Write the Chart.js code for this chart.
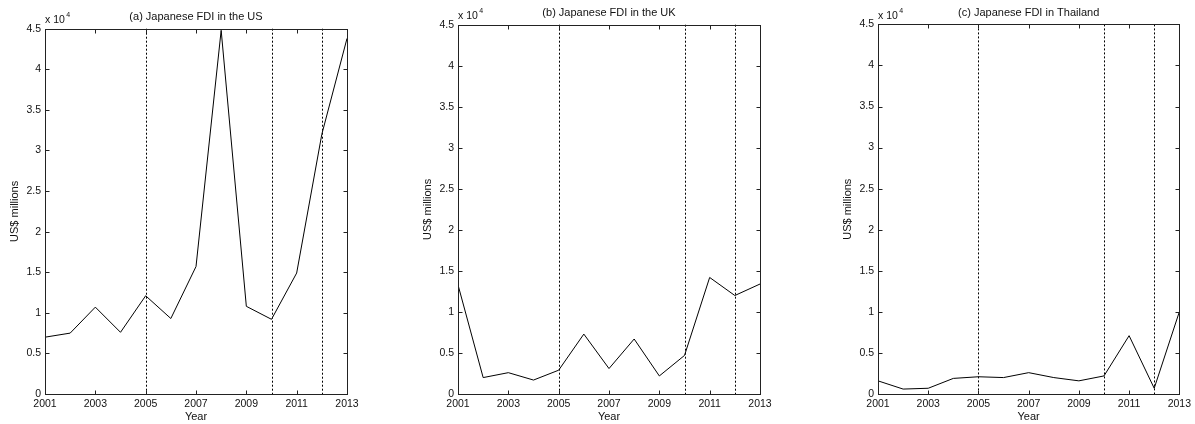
<!DOCTYPE html>
<html>
<head>
<meta charset="utf-8">
<script src="https://cdn.jsdelivr.net/npm/chart.js@4.4.1/dist/chart.umd.min.js"></script>
<style>
  body { margin: 0; background: #fff; width: 1195px; height: 424px; position: relative; overflow: hidden; }
  canvas { position: absolute; top: 0; }
</style>
</head>
<body>
<canvas id="fdiUS" width="400" height="424" style="left:0"></canvas>
<canvas id="fdiUK" width="400" height="424" style="left:400px"></canvas>
<canvas id="fdiTH" width="395" height="424" style="left:800px"></canvas>
<script>
// Japanese outward FDI, US$ millions
const years = [2001, 2002, 2003, 2004, 2005, 2006, 2007, 2008, 2009, 2010, 2011, 2012, 2013];
const fdiUS = [7000, 7500, 10700, 7600, 12100, 9300, 15700, 44800, 10800, 9200, 14900, 32000, 43800];
const fdiUK = [13300, 2000, 2600, 1700, 2900, 7300, 3100, 6700, 2200, 4700, 14200, 12000, 13400];
const fdiThailand = [1600, 600, 700, 1900, 2100, 2000, 2600, 2000, 1600, 2200, 7100, 700, 10000];

const yearTicks = [2001, 2003, 2005, 2007, 2009, 2011, 2013];
const breakYears = [2005, 2010, 2012];
const yExponent = 4;

const FONT = "'Liberation Sans', Arial, sans-serif";
const INK = '#111';

// MATLAB-like axes: closed frame, inward ticks, dashed break years, exponent label
const matlabAxes = {
  id: 'matlabAxes',
  beforeDatasetsDraw(chart) {
    const { ctx, chartArea: a, scales: { x } } = chart;
    ctx.save();
    ctx.strokeStyle = '#000';
    ctx.lineWidth = 1;
    ctx.setLineDash([2, 2]);
    breakYears.forEach(yr => {
      const px = Math.round(x.getPixelForValue(yr)) + 0.5;
      ctx.beginPath();
      ctx.moveTo(px, a.top);
      ctx.lineTo(px, a.bottom);
      ctx.stroke();
    });
    ctx.restore();
  },
  afterDraw(chart) {
    const { ctx, chartArea: a, scales: { x, y } } = chart;
    const L = Math.round(a.left) + 0.5, R = Math.round(a.right) + 0.5;
    const T = Math.round(a.top) + 0.5, B = Math.round(a.bottom) + 0.5;
    ctx.save();
    ctx.strokeStyle = '#222';
    ctx.lineWidth = 1;
    ctx.strokeRect(L, T, R - L, B - T);
    ctx.beginPath();
    x.ticks.forEach(t => {
      const px = Math.round(x.getPixelForValue(t.value)) + 0.5;
      ctx.moveTo(px, B); ctx.lineTo(px, B - 4);
      ctx.moveTo(px, T); ctx.lineTo(px, T + 4);
    });
    y.ticks.forEach(t => {
      const py = Math.round(y.getPixelForValue(t.value)) + 0.5;
      ctx.moveTo(L, py); ctx.lineTo(L + 4, py);
      ctx.moveTo(R, py); ctx.lineTo(R - 4, py);
    });
    ctx.stroke();

    ctx.fillStyle = INK;
    ctx.textBaseline = 'alphabetic';
    ctx.textAlign = 'left';
    ctx.font = '10.5px ' + FONT;
    const base = a.top - 5.5;
    ctx.fillText('x 10', a.left, base);
    const w = ctx.measureText('x 10').width;
    ctx.font = '7px ' + FONT;
    ctx.fillText(String(yExponent), a.left + w + 1.5, base - 6);
    ctx.restore();
  }
};

function drawPanel(id, title, values, padLeft, padRight, titleTop) {
  new Chart(document.getElementById(id), {
    type: 'line',
    data: {
      datasets: [{
        data: years.map((yr, i) => ({ x: yr, y: values[i] })),
        borderColor: '#000',
        borderWidth: 1,
        pointRadius: 0,
        tension: 0,
        fill: false
      }]
    },
    options: {
      responsive: false,
      animation: false,
      layout: { padding: { left: padLeft, right: padRight, top: 0, bottom: 0 } },
      plugins: {
        legend: { display: false },
        tooltip: { enabled: false },
        title: {
          display: true,
          text: title,
          fullSize: false,
          color: INK,
          font: { family: FONT, size: 11, weight: 'normal' },
          padding: { top: titleTop, bottom: 5 }
        }
      },
      scales: {
        x: {
          type: 'linear',
          min: 2001,
          max: 2013,
          afterBuildTicks: s => { s.ticks = yearTicks.map(v => ({ value: v })); },
          afterFit: s => { s.height = 30; },
          grid: { display: false, drawTicks: false },
          border: { display: false },
          ticks: {
            callback: v => String(v),
            autoSkip: false,
            maxRotation: 0,
            padding: 4,
            color: INK,
            font: { family: FONT, size: 10.5 }
          },
          title: {
            display: true,
            text: 'Year',
            color: INK,
            font: { family: FONT, size: 11 },
            padding: { top: 0, bottom: 0 }
          }
        },
        y: {
          min: 0,
          max: 45000,
          afterFit: s => { s.width = 45; },
          grid: { display: false, drawTicks: false },
          border: { display: false },
          ticks: {
            stepSize: 5000,
            callback: v => String(v / Math.pow(10, yExponent)),
            padding: 4,
            color: INK,
            font: { family: FONT, size: 10.5 }
          },
          title: {
            display: true,
            text: 'US$ millions',
            color: INK,
            font: { family: FONT, size: 11 },
            padding: { top: 8.4, bottom: 0 }
          }
        }
      }
    },
    plugins: [matlabAxes]
  });
}

drawPanel('fdiUS', '(a) Japanese FDI in the US', fdiUS, 0, 53, 10.5);
drawPanel('fdiUK', '(b) Japanese FDI in the UK', fdiUK, 13, 40, 6.5);
drawPanel('fdiTH', '(c) Japanese FDI in Thailand', fdiThailand, 33, 14, 6.2);
</script>
</body>
</html>
